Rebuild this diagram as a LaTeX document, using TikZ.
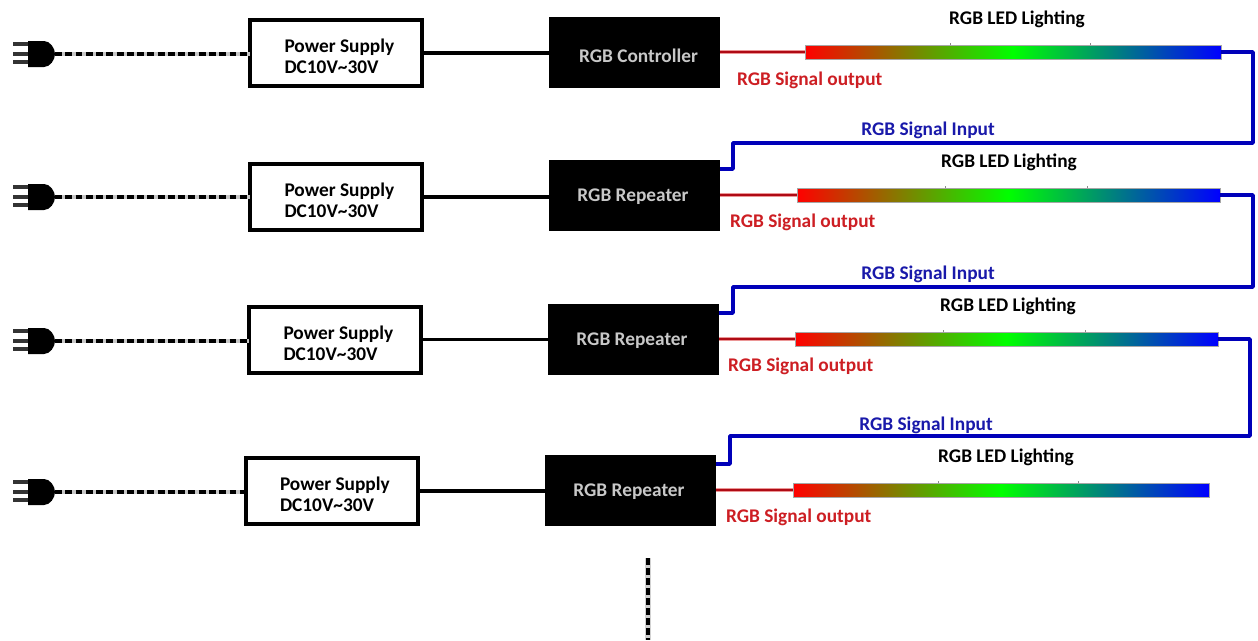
\documentclass[tikz,border=0pt]{standalone}
\usepackage{fontspec}
\setmainfont{Carlito}
\usetikzlibrary{calc}
\definecolor{redcore}{RGB}{175,10,20}
\definecolor{redhalo}{RGB}{235,150,150}
\definecolor{redtext}{RGB}{205,30,35}
\definecolor{bluecore}{RGB}{0,0,185}
\definecolor{bluetext}{RGB}{25,25,170}
\definecolor{unittext}{RGB}{200,200,200}
\tikzset{
  x=0.75pt,y=-0.75pt,
  lab/.style={font=\bfseries\fontsize{14.5}{15.8}\selectfont,inner sep=0,outer sep=0},
  psbox/.style={draw=black,line width=3pt,fill=white,minimum width=129pt,minimum height=49.5pt,inner sep=0,outer sep=0},
  unitbox/.style={fill=black,minimum width=128.25pt,minimum height=53.25pt,inner sep=0,outer sep=0},
  stripbar/.style={left color=red,right color=blue,middle color=green,minimum height=10.5pt,inner sep=0,outer sep=0,draw=black!35,line width=.3pt},
  powerline/.style={black,line width=2.6pt},
  mains/.style={black,line width=3pt,dash pattern=on 5.2pt off 2.5pt,preaction={draw=black!22,line width=3.4pt,solid}},
  sigred/.style={redcore,line width=1.7pt,preaction={draw=redhalo,line width=3.4pt}},
  sigblue/.style={bluecore,line width=2.8pt,line join=round},
  prong/.style={black!80,line width=2.9pt},
  tick/.style={black!45,line width=.7pt},
}
\begin{document}
\begin{tikzpicture}
\useasboundingbox[fill=white] (0,0) rectangle (1258,640);
\foreach \n/\plugy/\psx/\psy/\ux/\uy/\tx/\ty/\sl/\sr/\sy/\ledx/\ledy/\ox/\oy/\utext in {
  1/54/336/53/634.5/52.5/638.5/55.5/805/1221/52/1017/19/737/80/RGB Controller,
  2/197/336/197/634.5/195.5/633/197/797/1220/195/1009/162/730/222/RGB Repeater,
  3/341/335/339.5/633.5/339.5/632/341/795/1218/339/1008/306/728/366/RGB Repeater,
  4/492/331.5/491/630.5/490.5/629/492/793/1209/490/1006/457/726/517/RGB Repeater}{
  % plug
  \foreach \d in {-10,0,8}{\draw[prong] (13,\plugy+\d) -- (29,\plugy+\d);}
  \fill[black] (28,\plugy-13) -- (44,\plugy-13) .. controls (50,\plugy-13) and (55,\plugy-6) .. (55,\plugy) .. controls (55,\plugy+6) and (50,\plugy+13) .. (44,\plugy+13) -- (28,\plugy+13) -- cycle;
  \coordinate (tail\n) at (55,\plugy);
  % boxes
  \node[psbox] (ps\n) at (\psx,\psy) {};
  \node[lab,align=left,anchor=west] (pstext\n) at (\psx-51.5,\psy+3.5) {Power Supply\\DC10V\textasciitilde30V};
  \node[unitbox] (unit\n) at (\ux,\uy) {};
  \node[lab,text=unittext] (unittext\n) at (\tx,\ty) {\utext};
  \node[stripbar,anchor=west,minimum width={(\sr-\sl)*0.75pt}] (strip\n) at (\sl,\sy) {};
  \draw[tick] ($(strip\n.north west)!0.35!(strip\n.north east)$) -- ++(0,-2);
  \draw[tick] ($(strip\n.north west)!0.687!(strip\n.north east)$) -- ++(0,-2);
  % connectors
  \draw[mains] (tail\n) -- (tail\n -| ps\n.west);
  \draw[powerline] (ps\n.east) -- (ps\n.east -| unit\n.west);
  \draw[sigred] (strip\n.west -| unit\n.east) -- (strip\n.west);
  % labels
  \node[lab] (led\n) at (\ledx,\ledy) {RGB LED Lighting};
  \node[lab,text=redtext,anchor=west] (out\n) at (\ox,\oy) {RGB Signal output};
}
\coordinate (turnA) at (1253,143);
\coordinate (turnB) at (1253,287);
\coordinate (turnC) at (1250,436);
\coordinate (dropA) at (733,143);
\coordinate (dropB) at (733,287);
\coordinate (dropC) at (730,436);
\draw[sigblue] (strip1.east) -| (turnA) -- (dropA) |- ($(unit2.north east)+(0,9)$);
\draw[sigblue] (strip2.east) -| (turnB) -- (dropB) |- ($(unit3.north east)+(0,9)$);
\draw[sigblue] (strip3.east) -| (turnC) -- (dropC) |- ($(unit4.north east)+(0,9)$);
\node[lab,text=bluetext] (in2) at (928,130) {RGB Signal Input};
\node[lab,text=bluetext] (in3) at (928,274) {RGB Signal Input};
\node[lab,text=bluetext] (in4) at (926,425) {RGB Signal Input};
\coordinate (contA) at (648,558);
\coordinate (contB) at (648,640);
\draw[black,line width=3.4pt,dash pattern=on 5.2pt off 2.3pt,preaction={draw=black!18,line width=4pt,solid}] (contA) -- (contB);
\end{tikzpicture}
\end{document}
